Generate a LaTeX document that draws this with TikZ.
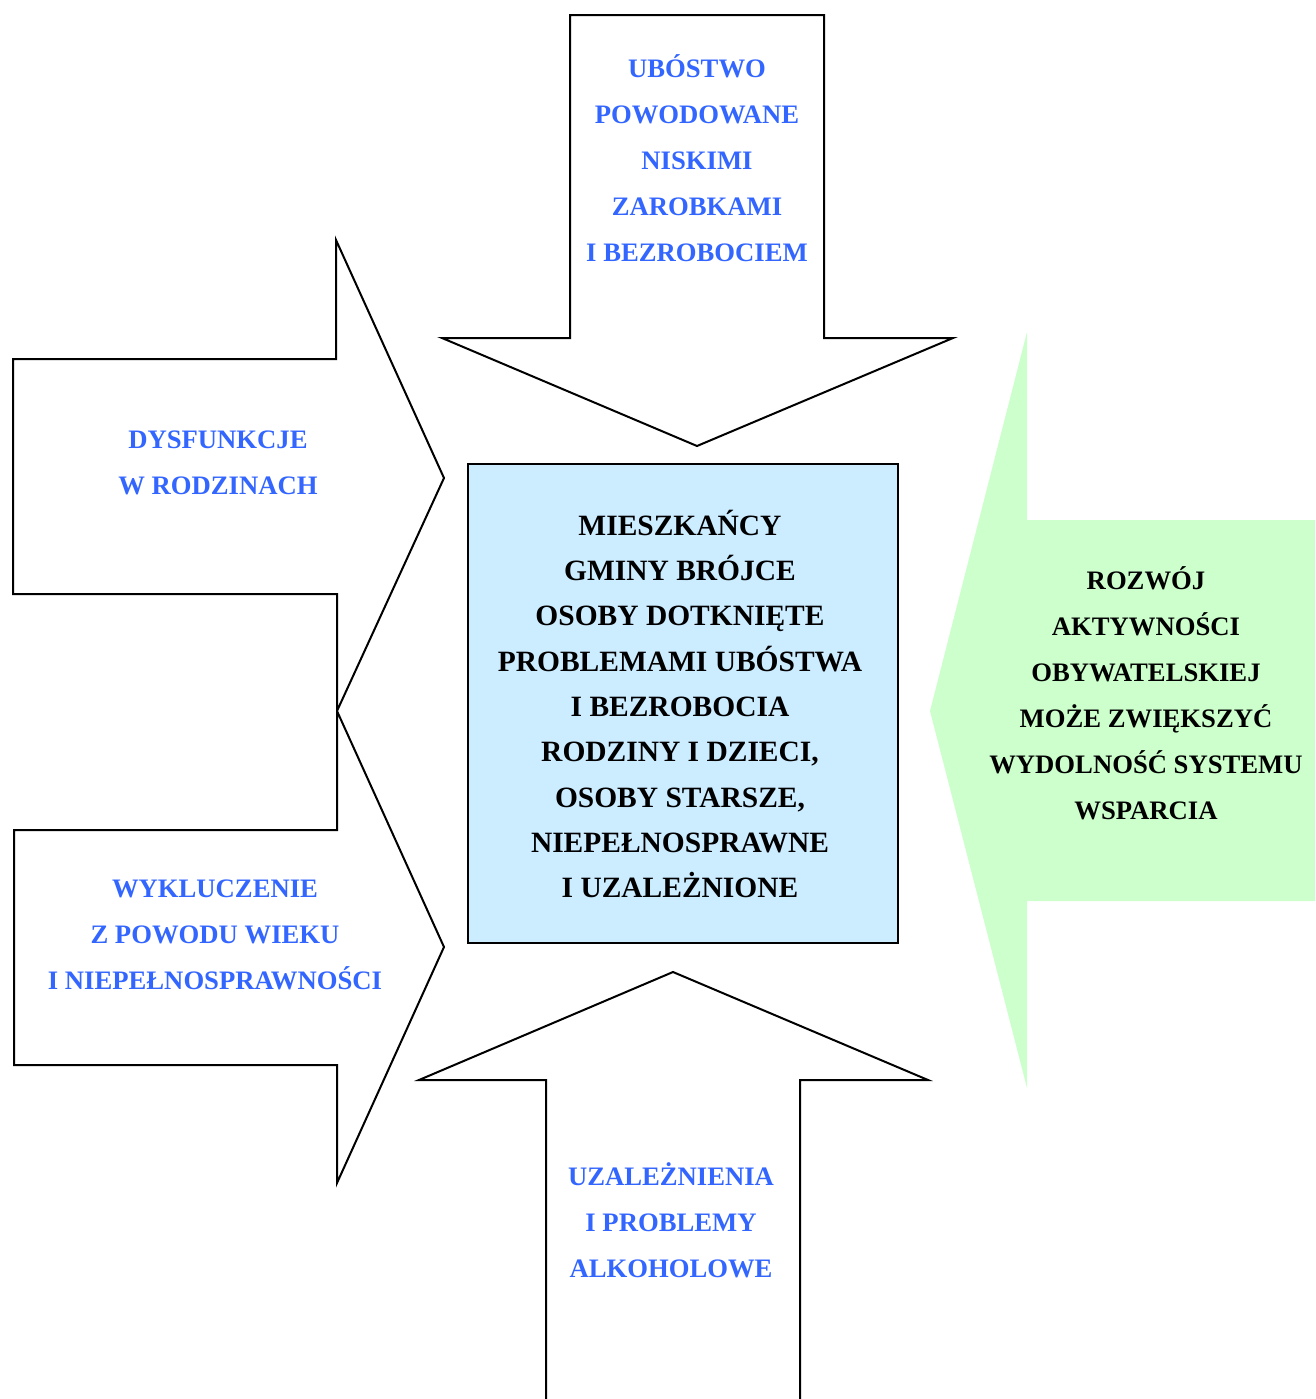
\documentclass[tikz,border=0pt]{standalone}
\usepackage{fontspec}
\setmainfont{Liberation Serif}
\definecolor{labelblue}{HTML}{3366FF}
\definecolor{boxblue}{HTML}{CCECFF}
\definecolor{hopegreen}{HTML}{CCFFCC}
\tikzset{
  font=\bfseries\fontsize{20}{34.5}\selectfont,
  bigarrow/.style={draw=black, line width=1.5pt, line join=miter},
  cause/.style={align=center, text=labelblue},
  hope/.style={align=center, text=black},
  core/.style={
    draw=black,
    line width=1.5pt,
    fill=boxblue,
    align=center,
    font=\bfseries\fontsize{22.1}{34}\selectfont
  }
}
\begin{document}
\begin{tikzpicture}[x=0.75pt, y=-0.75pt]
  \useasboundingbox (0,0) rectangle (1315,1399);

  \draw[bigarrow] (570,15) -- (824,15) -- (824,338) -- (953,338) -- (697,446)
    -- (442,338) -- (570,338) -- cycle;
  \draw[bigarrow] (13,359) -- (336,359) -- (336,240) -- (444,478) -- (337,711)
    -- (337,594) -- (13,594) -- cycle;
  \draw[bigarrow] (14,830) -- (337,830) -- (337,711) -- (444,947) -- (337,1183)
    -- (337,1065) -- (14,1065) -- cycle;
  \draw[bigarrow] (546,1399) -- (546,1080) -- (419,1080) -- (673,972)
    -- (928,1080) -- (800,1080) -- (800,1399);
  \fill[hopegreen] (1315,520) -- (1027,520) -- (1027,332) -- (930,711)
    -- (1027,1088) -- (1027,901) -- (1315,901) -- cycle;

  \node[core, minimum width=430*0.75pt, minimum height=479*0.75pt]
    (residents) at (683,703.5) {};
  \node[core, draw=none, fill=none] (residentstext) at (680,704)
    {MIESZKAŃCY\\GMINY BRÓJCE\\OSOBY DOTKNIĘTE\\PROBLEMAMI UBÓSTWA\\
     I BEZROBOCIA\\RODZINY I DZIECI,\\OSOBY STARSZE,\\NIEPEŁNOSPRAWNE\\
     I UZALEŻNIONE};

  \node[cause] (poverty) at (697,158)
    {UBÓSTWO\\POWODOWANE\\NISKIMI\\ZAROBKAMI\\I BEZROBOCIEM};
  \node[cause] (families) at (218,463)
    {DYSFUNKCJE\\W RODZINACH};
  \node[cause] (exclusion) at (215,935)
    {WYKLUCZENIE\\Z POWODU WIEKU\\I NIEPEŁNOSPRAWNOŚCI};
  \node[cause] (addiction) at (671,1220)
    {UZALEŻNIENIA\\I PROBLEMY\\ALKOHOLOWE};
  \node[hope] (civic) at (1146,693)
    {ROZWÓJ\\AKTYWNOŚCI\\OBYWATELSKIEJ\\MOŻE ZWIĘKSZYĆ\\WYDOLNOŚĆ SYSTEMU\\WSPARCIA};
\end{tikzpicture}
\end{document}
